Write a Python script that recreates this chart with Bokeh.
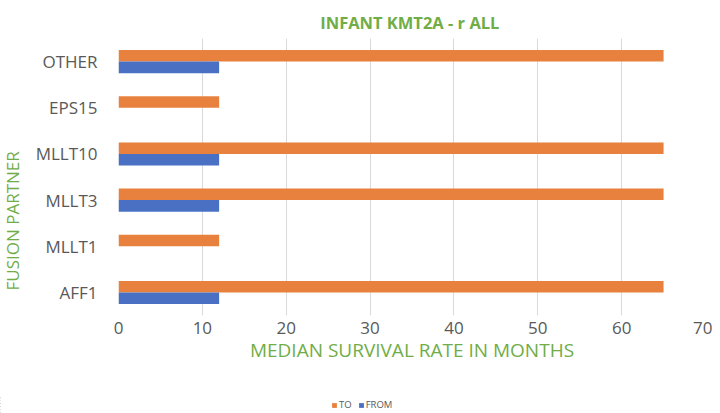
import math
from bokeh.plotting import figure
from bokeh.layouts import row, column
from bokeh.models import ColumnDataSource, FactorRange, Range1d, Label, Legend, LegendItem
from bokeh.transform import dodge
from bokeh.embed import file_html
from bokeh.resources import INLINE

categories = ["AFF1", "MLLT1", "MLLT3", "MLLT10", "EPS15", "OTHER"]
to_values = [65, 12, 65, 65, 12, 65]
from_values = [12, 0, 12, 12, 0, 12]
x_ticks = [0, 10, 20, 30, 40, 50, 60, 70]
series_names = ["TO", "FROM"]

ORANGE = "#E8813E"
BLUE = "#4A70C4"
GREEN = "#70AD47"
GRAY = "#595959"
FONT = "Open Sans"

src = ColumnDataSource(dict(cat=categories, to=to_values, frm=from_values))

# main chart
p = figure(width=688, height=396, output_backend="svg", toolbar_location=None,
           y_range=FactorRange(factors=categories), x_range=Range1d(0, 70),
           min_border_left=94, min_border_right=7, min_border_top=38, min_border_bottom=81)

r_to = p.hbar(y=dodge("cat", 0.125, range=p.y_range), right="to", left=0, height=0.25,
              source=src, color=ORANGE, line_color=None)
r_from = p.hbar(y=dodge("cat", -0.125, range=p.y_range), right="frm", left=0, height=0.25,
                source=src, color=BLUE, line_color=None)

p.title.text = "INFANT KMT2A  - r ALL"
p.title.align = "center"
p.title.text_color = GREEN
p.title.text_font = FONT
p.title.text_font_size = "16.5px"
p.title.text_font_style = "bold"

p.outline_line_color = None
p.ygrid.grid_line_color = None
p.xgrid.grid_line_color = "#D9D9D9"
p.xgrid.grid_line_width = 1
p.xaxis.ticker = x_ticks

for ax in (p.xaxis, p.yaxis):
    ax.axis_line_color = None
    ax.major_tick_line_color = None
    ax.minor_tick_line_color = None
    ax.major_label_text_font = FONT
    ax.major_label_text_font_size = "17px"
    ax.major_label_text_color = GRAY

p.yaxis.major_label_standoff = 15
p.xaxis.major_label_standoff = 0
p.xaxis.axis_label = "MEDIAN SURVIVAL RATE IN MONTHS"
p.xaxis.axis_label_text_font = FONT
p.xaxis.axis_label_text_font_size = "19px"
p.xaxis.axis_label_text_font_style = "normal"
p.xaxis.axis_label_text_color = GREEN
p.xaxis.axis_label_standoff = 0

# y-axis title strip (its frame is aligned with the main chart's frame by the row layout)
lab = figure(width=24, height=396, output_backend="svg", toolbar_location=None,
             x_range=Range1d(0, 1), y_range=Range1d(0, 1), min_border=0,
             x_axis_type=None, y_axis_type=None)
lab.outline_line_color = None
lab.add_layout(Label(x=12, y=25, x_units="screen", y_units="screen", text="FUSION  PARTNER",
                     angle=math.pi / 2, text_align="left", text_baseline="middle",
                     text_font=FONT, text_font_size="17px", text_color=GREEN))

# legend strip (series drawn outside the visible range, only their legend swatches show)
leg = figure(width=712, height=17, output_backend="svg", toolbar_location=None,
             y_range=FactorRange(factors=categories), x_range=Range1d(100, 101), min_border=0,
             x_axis_type=None, y_axis_type=None)
leg.outline_line_color = None
leg.grid.visible = False
lr_to = leg.hbar(y="cat", right="to", left=0, height=0.25, source=src, color=ORANGE, line_color=None)
lr_from = leg.hbar(y="cat", right="frm", left=0, height=0.25, source=src, color=BLUE, line_color=None)
legend = Legend(items=[LegendItem(label=series_names[0], renderers=[lr_to]),
                       LegendItem(label=series_names[1], renderers=[lr_from])],
                orientation="horizontal", location=(331, 2),
                label_text_font=FONT, label_text_font_size="9.5px", label_text_color=GRAY,
                glyph_width=6, glyph_height=6, label_standoff=2, spacing=6, label_width=0,
                padding=0, margin=0, background_fill_alpha=0, border_line_color=None)
leg.add_layout(legend)

layout = column(row(lab, p, spacing=0), leg, spacing=0)

open("out.html", "w").write(file_html(layout, INLINE))
